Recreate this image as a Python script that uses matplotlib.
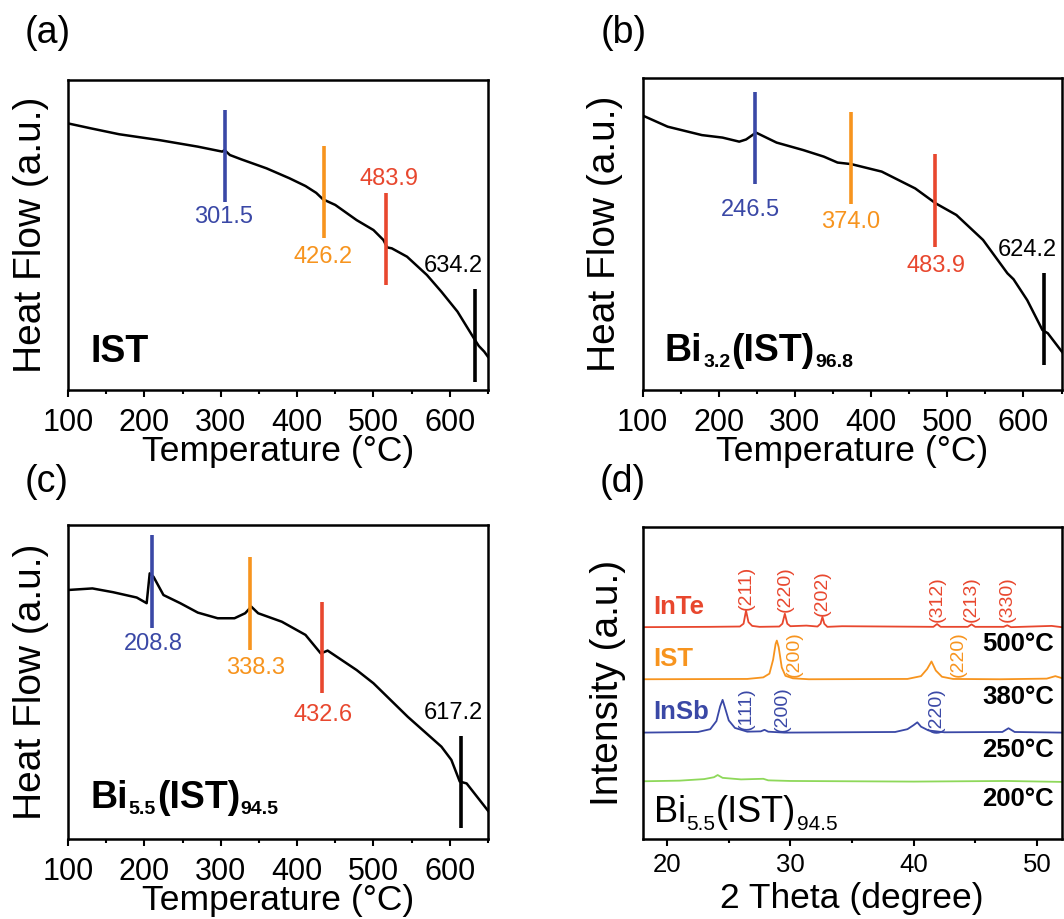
import matplotlib
matplotlib.use("Agg")
import matplotlib.pyplot as plt
from matplotlib.ticker import MultipleLocator

plt.rcParams['font.family'] = ['Liberation Sans', 'DejaVu Sans']

BLUE = "#3a48a6"
ORANGE = "#f7941e"
RED = "#e8472e"
GREEN = "#8ed85a"

# ---- (a) IST DSC ----
T_a = [100, 130, 167, 220, 270, 302, 305, 312, 327, 360, 390, 411, 425, 434, 450,
       478, 500, 513, 518, 524, 544, 570, 589, 610, 633, 638, 645, 650]
hf_a = [86.0, 84.4, 82.5, 80.6, 78.5, 76.9, 77.4, 75.8, 74.4, 71.5, 68.3, 65.8, 63.6,
        61.5, 59.7, 54.8, 51.6, 48.4, 46.0, 45.7, 43.0, 37.1, 31.7, 25.3, 16.1, 14.2,
        12.4, 10.7]
mark_a = [305, 435, 516.5, 633]
mark_a_lo = [60.6, 49.0, 33.9, 2.7]
mark_a_hi = [90.3, 78.7, 63.6, 32.5]
mark_a_txt = ["301.5", "426.2", "483.9", "634.2"]

# ---- (b) Bi3.2(IST)96.8 DSC ----
T_b = [100, 133, 178, 205, 227, 236, 249, 276, 311, 338, 356, 374, 414, 458, 485,
       512, 547, 579, 587, 605, 625, 632, 652]
hf_b = [88.0, 84.4, 81.7, 80.9, 79.6, 80.3, 82.5, 79.3, 76.9, 74.8, 72.9, 72.4, 70.0,
        64.6, 59.8, 56.1, 48.1, 37.4, 35.5, 28.8, 19.2, 18.2, 11.8]
mark_b = [247.8, 373.8, 484.2, 626.7]
mark_b_lo = [66.0, 59.5, 45.9, 8.0]
mark_b_hi = [95.6, 89.0, 75.5, 37.6]
mark_b_txt = ["246.5", "374.0", "483.9", "624.2"]

# ---- (c) Bi5.5(IST)94.5 DSC ----
T_c = [100, 132, 159, 190, 203, 207, 212, 225, 247, 270, 296, 318, 332, 340, 349,
       380, 411, 431, 440, 478, 500, 545, 589, 602, 613, 622, 651]
hf_c = [79.3, 79.8, 78.6, 76.9, 75.1, 84.6, 83.5, 77.7, 75.1, 72.1, 70.3, 70.3, 71.9,
        74.0, 71.9, 69.2, 65.0, 59.1, 60.0, 53.8, 49.6, 38.9, 29.4, 25.2, 18.3, 17.7,
        8.7]
mark_c = [210.5, 338.2, 432.3, 614.6]
mark_c_lo = [67.1, 60.2, 46.4, 3.4]
mark_c_hi = [96.8, 89.7, 75.6, 32.8]
mark_c_txt = ["208.8", "338.3", "432.6", "617.2"]

mark_colors = [BLUE, ORANGE, RED, "black"]

# label positions (T, y) for the numbers
lab_a = [(304, 55.7), (433.6, 43.0), (520, 68.0), (604.4, 40.1)]
lab_b = [(241.6, 57.7), (372.9, 53.9), (485.1, 39.8), (605.3, 44.9)]
lab_c = [(211.8, 62.0), (345.8, 54.4), (433.6, 39.5), (604.4, 40.0)]

# sample names: main text / subscript alternating
name_a = ["IST"]
name_b = ["Bi", "3.2", "(IST)", "96.8"]
name_c = ["Bi", "5.5", "(IST)", "94.5"]

# ---- (d) XRD ----
tt_inte = [18.0, 23.5, 25.9, 26.2, 26.4, 26.6, 26.9, 27.5, 29.1, 29.35, 29.55, 29.75,
           30.0, 31.3, 32.2, 32.45, 32.6, 32.75, 33.0, 34.2, 41.6, 41.9, 42.2, 44.4,
           44.7, 45.0, 47.3, 47.6, 47.9, 51.2, 52.0]
i_inte = [67.9, 68.0, 68.1, 69.0, 73.2, 69.5, 68.3, 68.0, 68.1, 69.0, 72.2, 69.0, 68.2,
          68.4, 68.1, 69.0, 71.2, 69.0, 68.0, 68.2, 68.0, 68.9, 68.0, 68.0, 68.8, 68.0,
          68.0, 68.5, 67.9, 68.3, 67.9]
tt_ist = [18.0, 26.5, 27.8, 28.3, 28.6, 28.8, 28.9, 29.05, 29.3, 29.6, 30.2, 31.5, 39.5,
          40.6, 41.1, 41.45, 41.8, 42.3, 43.2, 47.0, 50.8, 51.5, 52.0]
i_ist = [51.2, 51.3, 51.8, 53.0, 57.5, 62.5, 63.6, 61.5, 55.0, 52.3, 51.5, 51.2, 51.3,
         52.2, 54.5, 56.9, 54.0, 52.0, 51.3, 51.2, 51.4, 52.2, 51.6]
tt_insb = [18.0, 22.5, 23.5, 24.0, 24.3, 24.5, 24.7, 25.0, 25.5, 26.5, 27.6, 27.9, 28.2,
           29.5, 38.5, 39.5, 40.0, 40.3, 40.6, 41.2, 42.5, 47.2, 47.7, 48.2, 52.0]
i_insb = [34.1, 34.3, 35.2, 37.8, 42.5, 44.6, 42.0, 38.0, 35.6, 34.4, 34.5, 35.0, 34.4,
          34.1, 34.3, 35.2, 36.5, 37.4, 36.0, 34.8, 34.2, 34.3, 35.5, 34.3, 34.1]
tt_amor = [18.0, 21.0, 23.0, 23.8, 24.1, 24.5, 26.0, 27.8, 28.2, 30.0, 40.0, 47.5, 52.0]
i_amor = [18.5, 18.7, 19.2, 19.8, 20.5, 19.6, 19.1, 19.3, 18.8, 18.6, 18.4, 18.6, 18.3]

hkl_inte = ["(211)", "(220)", "(202)", "(312)", "(213)", "(330)"]
hkl_inte_x = [26.4, 29.55, 32.6, 41.9, 44.7, 47.6]
hkl_inte_y = [73.5, 72.6, 71.6, 69.5, 69.5, 69.5]
hkl_ist = ["(200)", "(220)"]
hkl_ist_x = [30.35, 43.65]
hkl_ist_y = [52.0, 52.0]
hkl_insb = ["(111)", "(200)", "(220)"]
hkl_insb_x = [26.4, 29.3, 41.8]
hkl_insb_y = [34.9, 34.4, 33.9]

phases = ["InTe", "IST", "InSb"]
phases_y = [74.5, 57.7, 40.8]
temps = ["500°C", "380°C", "250°C", "200°C"]
temps_y = [62.5, 45.6, 28.5, 12.7]
name_d = ["Bi", "5.5", "(IST)", "94.5"]

W, H = 1064, 919
fig = plt.figure(figsize=(W / 100, H / 100), dpi=100)


def box(l, t, r, b):
    return [l / W, 1 - b / H, (r - l) / W, (b - t) / H]


def style(ax):
    for s in ax.spines.values():
        s.set_linewidth(1.8)
    ax.tick_params(left=False, labelleft=False, right=False, top=False)
    ax.tick_params(axis='x', which='major', direction='out', length=5, width=1.5, pad=8)
    ax.tick_params(axis='x', which='minor', direction='out', length=3, width=1.5)


def chem(ax, x, y, parts, size, subsize, drop, weight):
    # main text and subscripts chained one after another
    first = ax.text(x, y, parts[0], fontsize=size, fontweight=weight,
                    ha="left", va="baseline")
    prev = first
    for i in range(1, len(parts)):
        if i % 2 == 1:
            dy = 0.21 * (size - subsize) - drop
            fs = subsize
        else:
            dy = 0
            fs = size
        prev = ax.annotate(parts[i], xy=(1, 0), xycoords=(prev, first),
                           xytext=(0.5, dy), textcoords="offset points",
                           fontsize=fs, fontweight=weight, ha="left", va="bottom")


dsc = [
    (box(68, 80, 488, 390), T_a, hf_a, mark_a, mark_a_lo, mark_a_hi, mark_a_txt, lab_a,
     name_a, 9.0),
    (box(642.5, 78, 1061.5, 390), T_b, hf_b, mark_b, mark_b_lo, mark_b_hi, mark_b_txt, lab_b,
     name_b, 9.4),
    (box(68, 525, 488, 839), T_c, hf_c, mark_c, mark_c_lo, mark_c_hi, mark_c_txt, lab_c,
     name_c, 9.8),
]

for rect, T, hf, mk, lo, hi, txt, lab, name, name_y in dsc:
    ax = fig.add_axes(rect)
    ax.plot(T, hf, color="black", lw=1.8)
    for i in range(len(mk)):
        ax.vlines(mk[i], lo[i], hi[i], colors=mark_colors[i], lw=2.6)
        ax.text(lab[i][0], lab[i][1], txt[i], color=mark_colors[i], fontsize=17,
                ha="center", va="center")
    chem(ax, 129.5, name_y, name, 27, 14, 4.3, "bold")
    ax.set_xlim(100, 650)
    ax.set_ylim(0, 100)
    ax.xaxis.set_major_locator(MultipleLocator(100))
    ax.xaxis.set_minor_locator(MultipleLocator(50))
    style(ax)
    ax.tick_params(axis='x', labelsize=22)
    ax.set_xlabel("Temperature (°C)", fontsize=25.5, labelpad=-2)
    ax.set_ylabel("Heat Flow (a.u.)", fontsize=28, labelpad=14)

# XRD panel
ax = fig.add_axes(box(642.5, 527, 1061.5, 839))
ax.plot(tt_inte, i_inte, color=RED, lw=1.3)
ax.plot(tt_ist, i_ist, color=ORANGE, lw=1.3)
ax.plot(tt_insb, i_insb, color=BLUE, lw=1.3)
ax.plot(tt_amor, i_amor, color=GREEN, lw=1.3)
for lbls, xs, ys, c in [(hkl_inte, hkl_inte_x, hkl_inte_y, RED),
                        (hkl_ist, hkl_ist_x, hkl_ist_y, ORANGE),
                        (hkl_insb, hkl_insb_x, hkl_insb_y, BLUE)]:
    for s, x, y in zip(lbls, xs, ys):
        ax.text(x, y, s, rotation=90, color=c, fontsize=14, ha="center", va="bottom")
for s, y, c in zip(phases, phases_y, [RED, ORANGE, BLUE]):
    ax.text(18.9, y, s, color=c, fontsize=18.5, fontweight="bold", va="center")
for s, y in zip(temps, temps_y):
    ax.text(51.4, y, s, fontsize=18.5, fontweight="bold", ha="right", va="center")
chem(ax, 18.9, 5.5, name_d, 26, 15, 5.5, "normal")
ax.set_xlim(18, 52)
ax.set_ylim(0, 100)
ax.xaxis.set_major_locator(MultipleLocator(10))
ax.xaxis.set_minor_locator(MultipleLocator(5))
style(ax)
ax.tick_params(axis='x', labelsize=18.5, pad=5)
ax.set_xlabel("2 Theta (degree)", fontsize=25.5, labelpad=4)
ax.set_ylabel("Intensity (a.u.)", fontsize=28, labelpad=12)

for s, x, y in [("(a)", 48, 33), ("(b)", 624, 33), ("(c)", 47, 482), ("(d)", 623, 482)]:
    fig.text(x / W, 1 - y / H, s, fontsize=27, ha="center", va="center")

fig.savefig("out.png", dpi=100)
